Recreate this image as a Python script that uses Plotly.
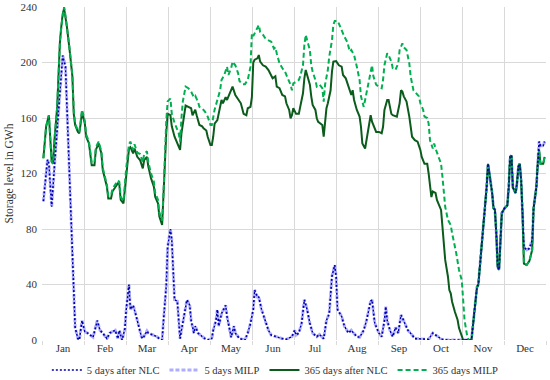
import plotly.graph_objects as go

months = ["Jan", "Feb", "Mar", "Apr", "May", "Jun", "Jul", "Aug", "Sep", "Oct", "Nov", "Dec"]
y_ticks = [0, 40, 80, 120, 160, 200, 240]

# ---- 5-day horizon (storage level in GWh by day of year) ----
five_days = [1, 4, 5, 7, 9, 12, 14, 15, 17, 18, 20, 22, 23, 24, 26, 27, 29, 31, 33, 37,
             40, 42, 44, 47, 49, 51, 53, 55, 56, 58, 60, 61, 63, 64, 66, 68, 70, 72, 73, 76,
             77, 80, 83, 85, 87, 88, 90, 91, 93, 94, 95, 96, 98, 99, 100, 101, 103, 105, 107, 108,
             110, 111, 113, 116, 118, 120, 123, 124, 126, 127, 128, 130, 133, 134, 136, 137, 139, 140, 143, 147,
             149, 151, 153, 154, 156, 157, 159, 162, 164, 166, 169, 174, 177, 181, 183, 184, 186, 188, 190, 192,
             194, 196, 199, 201, 204, 206, 208, 210, 212, 213, 214, 217, 219, 222, 224, 226, 228, 230, 233, 235,
             238, 239, 240, 241, 244, 246, 248, 249, 250, 252, 254, 256, 258, 260, 261, 263, 265, 268, 270, 280,
             283, 285, 287, 289, 294, 311, 314, 315, 316, 318, 320, 321, 322, 323, 324, 326, 327, 328, 329, 330,
             331, 332, 333, 335, 337, 338, 339, 340, 341, 343, 344, 345, 346, 347, 348, 349, 351, 353, 355, 356,
             358, 359, 360, 361, 363, 364]
five_nlc = [100, 130, 127, 96, 125, 166, 187, 205, 197, 168, 110, 62, 29, 9, 1, 0, 14, 6, 5, 2,
            14, 7, 5, 1, 5, 6, 7, 1, 7, 0, 8, 22, 40, 22, 25, 18, 10, 2.4, 1, 6.5,
            5, 4, 2.5, 1, 0, 14, 39, 67, 80, 72, 53, 29, 28, 14, 1, 7, 19, 29, 25, 14,
            5, 10, 5, 2.4, 1, 0, 1, 7, 14, 22, 10, 19, 25, 17, 7, 2, 10, 5, 1, 0,
            5, 12, 22, 36, 31, 31, 22, 12, 7, 3.5, 2.4, 1, 0.5, 2.4, 7, 3.6, 5, 12, 29, 22,
            12, 5, 2.4, 4, 1, 14, 19, 46, 54, 46, 22, 17, 10, 5, 7, 5, 2.4, 2, 7, 14,
            28, 29, 22, 12, 5, 2.4, 14, 24, 14, 7, 2.4, 9, 5, 18, 16, 12, 7, 3.6, 1, 0.5,
            5, 3.6, 2.4, 0.5, 0, 0, 29, 38, 40, 62.5, 82, 95, 110, 127, 120, 106, 95, 94, 77, 53,
            50.5, 70, 91.5, 95, 97, 110, 132, 133, 110, 106, 113, 125, 127, 115, 91.5, 67, 65, 66, 72, 95,
            110, 127, 143, 140, 140, 143]
five_milp = [100, 130, 127, 96, 125, 166, 187, 205, 197, 168, 110, 62, 29, 9, 1, 0, 14, 6, 5, 2,
             14, 7, 5, 1, 5, 6, 7, 1, 7, 0, 8, 22, 40, 22, 25, 18, 10, 2.4, 1, 6.5,
             5, 4, 2.5, 1, 0, 14, 39, 67, 80, 72, 53, 29, 28, 14, 1, 7, 19, 29, 25, 14,
             5, 10, 5, 2.4, 1, 0, 1, 7, 14, 22, 10, 19, 25, 17, 7, 2, 10, 5, 1, 0,
             5, 12, 22, 36, 31, 31, 22, 12, 7, 3.5, 2.4, 1, 0.5, 2.4, 7, 3.6, 5, 12, 29, 22,
             12, 5, 2.4, 4, 1, 14, 19, 46, 54, 46, 22, 17, 10, 5, 7, 5, 2.4, 2, 7, 14,
             28, 29, 22, 12, 5, 2.4, 14, 24, 14, 7, 2.4, 9, 5, 18, 16, 12, 7, 3.6, 1, 0.5,
             5, 3.6, 2.4, 0.5, 0, 0, 29, 38, 40, 62.5, 82, 95, 110, 127, 120, 106, 95, 94, 77, 53,
             50.5, 70, 91.5, 95, 97, 110, 132, 133, 110, 106, 113, 125, 127, 115, 91.5, 67, 65, 66, 72, 95,
             110, 127, 143, 140, 140, 143]

# ---- 365-day horizon after NLC ----
year_nlc_days = [1, 3, 5, 6, 7, 8, 9, 11, 12, 13, 14, 15, 16, 17, 18, 20, 22, 23, 24, 26,
                 27, 28, 29, 31, 32, 34, 36, 38, 39, 41, 43, 44, 46, 47, 48, 50, 51, 53, 55, 56,
                 57, 59, 61, 63, 64, 66, 67, 69, 71, 73, 74, 76, 77, 79, 81, 82, 84, 85, 87, 88,
                 89, 90, 91, 93, 94, 96, 99, 100, 101, 103, 104, 106, 108, 109, 111, 112, 114, 116, 117, 119,
                 120, 122, 123, 124, 125, 127, 128, 129, 130, 131, 133, 134, 136, 137, 138, 140, 142, 144, 146, 148,
                 149, 151, 152, 153, 154, 156, 157, 158, 160, 162, 164, 166, 167, 169, 170, 172, 174, 176, 177, 179,
                 180, 181, 182, 184, 186, 187, 189, 190, 191, 192, 194, 195, 196, 198, 199, 200, 202, 203, 204, 205,
                 206, 207, 209, 210, 211, 213, 215, 217, 218, 220, 222, 224, 225, 226, 228, 230, 231, 232, 234, 235,
                 237, 238, 239, 241, 242, 244, 246, 247, 248, 250, 251, 253, 254, 257, 259, 260, 261, 262, 264, 266,
                 267, 268, 270, 272, 274, 275, 277, 279, 280, 281, 282, 283, 285, 286, 288, 289, 290, 291, 292, 294,
                 295, 296, 297, 299, 301, 302, 304, 305, 311, 314, 315, 316, 318, 320, 321, 322, 323, 324, 326, 327,
                 328, 329, 330, 331, 332, 333, 335, 337, 338, 339, 340, 341, 343, 344, 345, 346, 347, 348, 349, 351,
                 353, 355, 356, 358, 359, 360, 361, 363, 364]
year_nlc = [131, 154, 162, 144, 128.5, 127, 144, 168, 197, 215, 226, 235, 239, 233, 226, 209, 190, 163, 155, 150,
            149, 156, 164.5, 156, 146.5, 141.7, 126, 126, 137, 141.7, 134.5, 122.5, 115, 110.5, 102, 102, 107, 110.5, 113, 112,
            101, 98.5, 120, 138, 139, 134.5, 138, 132, 129.7, 123.7, 129.7, 132, 125, 116.5, 110.5, 103, 98.5, 89, 83, 101,
            127, 149, 163, 162, 154, 146.5, 139, 137, 149, 163, 169, 168, 167, 162, 166, 162, 155, 154, 152.5, 151,
            146.5, 140.5, 140.5, 146.5, 156, 158.5, 163, 168, 173, 170.6, 175, 173, 177.8, 181, 182.6, 176.6, 174, 170.6, 163, 162,
            167, 168, 175, 200, 202, 203, 205.4, 200.6, 198, 197, 194.6, 190, 188.6, 190, 182.6, 181.5, 176.6, 175.6, 170.6, 165.8,
            159.8, 162, 167, 163, 163, 168, 177.8, 188.6, 194.6, 191, 184, 175.6, 169.4, 165.8, 159.8, 157.3, 156, 155, 146.5, 157.7,
            167, 170.6, 180, 193.4, 200.6, 201, 198, 197, 191, 188.6, 182.6, 176.6, 180, 173, 165.8, 161, 153.7, 141.7, 138, 144,
            153.7, 162, 157.3, 152.5, 150, 150, 149, 153.7, 165.8, 173, 173, 163, 162, 161, 170.6, 180, 179, 175.6, 171.8, 161,
            153.7, 146.5, 144, 143, 137, 132, 127, 127, 120, 112, 103, 107, 106, 101, 96, 93.7, 81.7, 67, 57.7, 45.6,
            36, 33.6, 27.6, 20.4, 14.4, 8.6, 2.4, 0, 0, 29, 38, 40, 62.5, 82, 95, 110, 127, 120, 106, 95,
            94, 77, 53, 50.5, 70, 91.5, 95, 97, 110, 132, 133, 110, 106, 113, 125, 127, 115, 91.5, 55, 54,
            57, 65, 95, 110, 127, 137, 127, 127, 132]

# ---- 365-day horizon MILP ----
year_milp_days = [1, 3, 5, 6, 7, 8, 9, 11, 12, 13, 14, 15, 16, 17, 18, 20, 22, 23, 24, 26,
                  27, 28, 29, 31, 32, 34, 36, 38, 39, 41, 43, 44, 46, 47, 48, 50, 51, 53, 55, 56,
                  57, 59, 61, 63, 64, 66, 67, 69, 71, 73, 74, 76, 77, 79, 81, 82, 84, 85, 87, 88,
                  89, 90, 91, 93, 94, 96, 99, 100, 101, 102, 104, 106, 108, 110, 111, 113, 114, 116, 118, 120,
                  122, 123, 125, 127, 129, 130, 132, 134, 135, 137, 138, 140, 142, 143, 145, 147, 149, 151, 152, 153,
                  156, 157, 158, 160, 162, 164, 166, 168, 169, 170, 172, 174, 176, 178, 180, 181, 182, 184, 186, 187,
                  189, 190, 191, 192, 194, 195, 196, 198, 199, 201, 203, 204, 205, 207, 208, 210, 211, 212, 214, 215,
                  217, 219, 221, 223, 224, 226, 228, 230, 231, 233, 234, 236, 238, 239, 240, 242, 244, 246, 247, 248,
                  250, 251, 253, 254, 256, 258, 259, 261, 262, 264, 266, 267, 269, 271, 273, 274, 276, 277, 279, 280,
                  281, 283, 284, 285, 287, 289, 290, 291, 292, 294, 296, 297, 299, 300, 302, 304, 305, 306, 308, 309,
                  311, 314, 315, 316, 318, 320, 321, 322, 323, 324, 326, 327, 328, 329, 330, 331, 332, 333, 335, 337,
                  338, 339, 340, 341, 343, 344, 345, 346, 347, 348, 349, 351, 353, 355, 356, 358, 359, 360, 361, 363,
                  364]
year_milp = [131, 154, 162, 144, 128.5, 127, 144, 168, 197, 215, 226, 235, 240, 234, 227, 210, 191, 165, 156, 151,
             150, 158, 166, 158, 148, 143, 128, 128, 139, 143, 136, 124, 116, 112, 104, 104, 109, 112, 115, 114,
             103, 100, 124, 141, 143, 137, 141, 135, 134, 128, 134, 136, 128, 120, 114, 106, 101, 92, 86, 106,
             135, 158, 172, 174, 163, 156.5, 149, 143, 160, 172, 182.6, 181.5, 179, 175, 176, 171.6, 168, 167, 164.6, 161,
             155, 155, 166, 174, 180, 187.4, 191, 197, 191, 196, 200.6, 198, 192.4, 186.7, 184.4, 184.4, 187.4, 197, 221, 219,
             226, 227, 222, 220, 217, 216, 215, 210, 211, 206.6, 199.4, 196, 193.4, 188.6, 184, 180, 185, 186, 187.4, 190,
             198, 212.6, 220, 216, 209, 198, 193.4, 187.4, 182.6, 184, 181.5, 171.8, 184, 194.6, 204, 216, 227, 230, 230, 228,
             223, 218.6, 215, 207.8, 209, 205.4, 197, 187.4, 175.6, 168, 173, 182.6, 194.6, 198, 190, 184, 182.6, 181.5, 187.4, 198,
             206.6, 205.4, 200.6, 196, 194.6, 199.4, 209, 213.8, 211, 209, 199.4, 189.8, 180, 177.8, 175.6, 170.6, 166, 161, 160, 156,
             144, 138, 141.7, 138, 132, 127, 117.7, 106, 96, 86.5, 82.9, 77, 68, 62.5, 50.5, 43, 29, 14.4, 2.4, 0,
             0, 29, 38, 40, 62.5, 82, 95, 110, 127, 120, 106, 95, 94, 77, 53, 50.5, 70, 91.5, 95, 97,
             110, 132, 133, 110, 106, 113, 125, 127, 115, 91.5, 55, 54, 57, 65, 95, 110, 127, 137, 127, 127,
             132]

SERIF = "Liberation Serif"
TXT = "#333333"
GRID = "#d9d9d9"
MONTH_LEN = 365 / 12

fig = go.Figure()
fig.add_trace(go.Scatter(x=five_days, y=five_milp, name="5 days MILP", mode="lines",
                         line=dict(color="#adadff", width=3, dash="4px,2px"), legendrank=2))
fig.add_trace(go.Scatter(x=year_nlc_days, y=year_nlc, name="365 days after NLC", mode="lines",
                         line=dict(color="#0b5c1c", width=2), legendrank=3))
fig.add_trace(go.Scatter(x=year_milp_days, y=year_milp, name="365 days MILP", mode="lines",
                         line=dict(color="#00b050", width=2, dash="5px,3px"), legendrank=4))
fig.add_trace(go.Scatter(x=five_days, y=five_nlc, name="5 days after NLC", mode="lines",
                         line=dict(color="#0000a8", width=1.6, dash="2px,2px"), legendrank=1))

fig.update_layout(
    template="none",
    width=550, height=380,
    margin=dict(l=42, r=4, t=7, b=40, autoexpand=False),
    paper_bgcolor="white", plot_bgcolor="white",
    font=dict(family=SERIF, size=11, color=TXT),
    showlegend=True,
    legend=dict(orientation="h", x=0.463, xanchor="center", y=-0.09, yanchor="middle",
                font=dict(family=SERIF, size=10.5, color=TXT), itemwidth=30,
                tracegroupgap=0, bgcolor="rgba(0,0,0,0)", borderwidth=0),
    xaxis=dict(range=[0, 365], showgrid=False, zeroline=False, showline=False, automargin=False,
               tickmode="array",
               tickvals=[(m + 0.5) * MONTH_LEN for m in range(12)],
               ticktext=months, ticks="",
               tickfont=dict(family=SERIF, size=11, color=TXT),
               minor=dict(tickmode="array", tickvals=[m * MONTH_LEN for m in range(13)],
                          showgrid=True, gridcolor=GRID, gridwidth=1,
                          ticks="outside", ticklen=4, tickcolor=GRID)),
    yaxis=dict(range=[0, 240], tickmode="array", tickvals=y_ticks, automargin=False,
               showgrid=True, gridcolor=GRID, gridwidth=1, zeroline=False, showline=False,
               ticks="", ticklabelstandoff=4,
               tickfont=dict(family=SERIF, size=11, color=TXT)),
    annotations=[dict(text="Storage level in GWh", xref="paper", yref="paper",
                      x=-0.0635, y=0.5, xanchor="center", yanchor="middle",
                      textangle=-90, showarrow=False,
                      font=dict(family=SERIF, size=11.5, color=TXT))],
)

fig.write_html("out.html", config={"displayModeBar": False},
               post_script="document.body.style.margin='0';document.body.style.padding='0';")
